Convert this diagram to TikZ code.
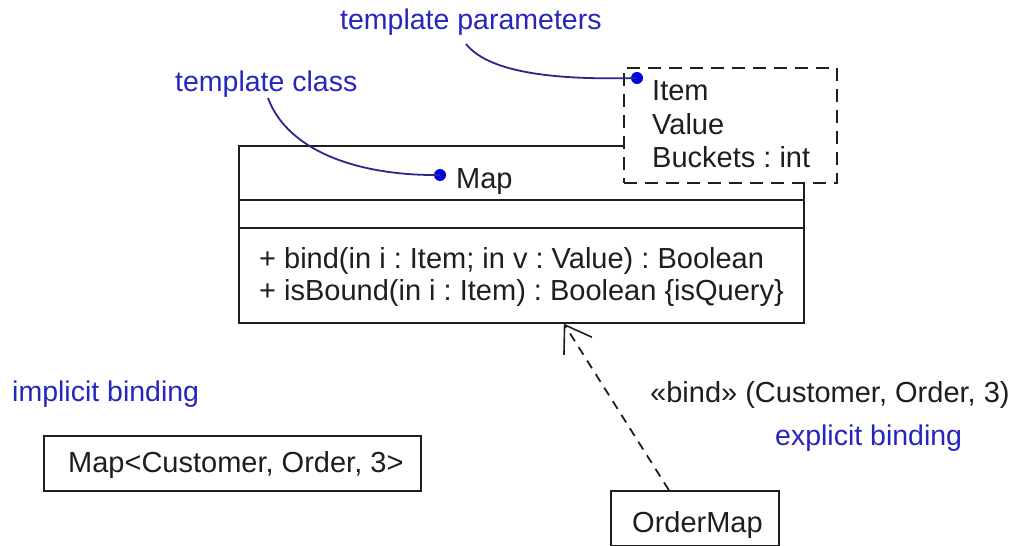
\documentclass[tikz,border=0pt]{standalone}
\usepackage{fontspec}
\setmainfont{Liberation Sans}
\usetikzlibrary{arrows.meta}
\definecolor{lblue}{RGB}{38,38,190}
\definecolor{cblue}{RGB}{40,40,140}
\definecolor{dblue}{RGB}{0,0,225}
\definecolor{ink}{RGB}{30,30,30}
\frenchspacing
\tikzset{
  txt/.style={anchor=base west, inner sep=0pt, text=ink, font=\fontsize{29}{34}\selectfont},
  lbl/.style={anchor=base west, inner sep=0pt, text=lblue, font=\fontsize{28.5}{34}\selectfont},
  box/.style={draw=ink, line width=1.6pt, anchor=north west, inner sep=0pt},
  pbox/.style={draw=ink, line width=2pt, dash pattern=on 13pt off 8pt, fill=white, anchor=north west, inner sep=0pt},
  dot/.style={circle, fill=dblue, inner sep=0pt, minimum size=12pt},
  callout/.style={cblue, line width=1.8pt},
}
\begin{document}
\begin{tikzpicture}[x=1pt,y=-1pt]
\useasboundingbox (0,0) rectangle (1013,546);
% class box
\node[box, minimum width=565pt, minimum height=177pt] (cls) at (238,145) {};
\draw[ink, line width=2.4pt] (cls.west |- 0,200) coordinate (d1a) -- (cls.east |- 0,200) coordinate (d1b);
\draw[ink, line width=1.6pt] (cls.west |- 0,228) coordinate (d2a) -- (cls.east |- 0,228) coordinate (d2b);
\node[txt] (mapname) at (456,188) {Map};
\node[txt] (op1) at (259,268) {+ bind(in i : Item; in v : Value) : Boolean};
\node[txt] (op2) at (259,300) {+ isBound(in i : Item) : Boolean \{isQuery\}};
% template parameter box
\node[pbox, minimum width=213pt, minimum height=115pt] (params) at (623,67) {};
\node[txt] (p1) at (652,100) {Item};
\node[txt] (p2) at (652,134) {Value};
\node[txt] (p3) at (652,167) {Buckets : int};
% callouts
\node[lbl] (tpl) at (340,30) {template parameters};
\node[lbl] (tcl) at (175,91) {template class};
\node[dot] (dp) at (637,78) {};
\node[dot] (dc) at (440,175) {};
\coordinate (tps) at (466,44);
\coordinate (tcs) at (268,98);
\draw[callout] (tps) .. controls (490,74) and (560,80) .. (dp.center);
\draw[callout] (tcs) .. controls (288,152) and (360,176) .. (dc.center);
% implicit binding
\node[lbl] (impl) at (12,401) {implicit binding};
\node[box, minimum width=377pt, minimum height=55pt] (imb) at (43,435) {};
\node[txt] (imt) at (68,472) {Map<Customer, Order, 3>};
% explicit binding
\node[box, minimum width=168pt, minimum height=55pt] (om) at (610,490) {};
\node[txt] (omt) at (632,532) {OrderMap};
\coordinate (omtop) at ([xshift=-26pt]om.north);
\coordinate (tip) at ([xshift=42.5pt]cls.south);
\draw[ink, line width=1.8pt, dash pattern=on 9pt off 7pt, -{Straight Barb[length=25pt, width=33pt, line width=1.6pt]}] (omtop) -- (tip);
\node[txt] (bindl) at (650,402) {«bind» (Customer, Order, 3)};
\node[lbl] (expl) at (775,445) {explicit binding};
\end{tikzpicture}
\end{document}
